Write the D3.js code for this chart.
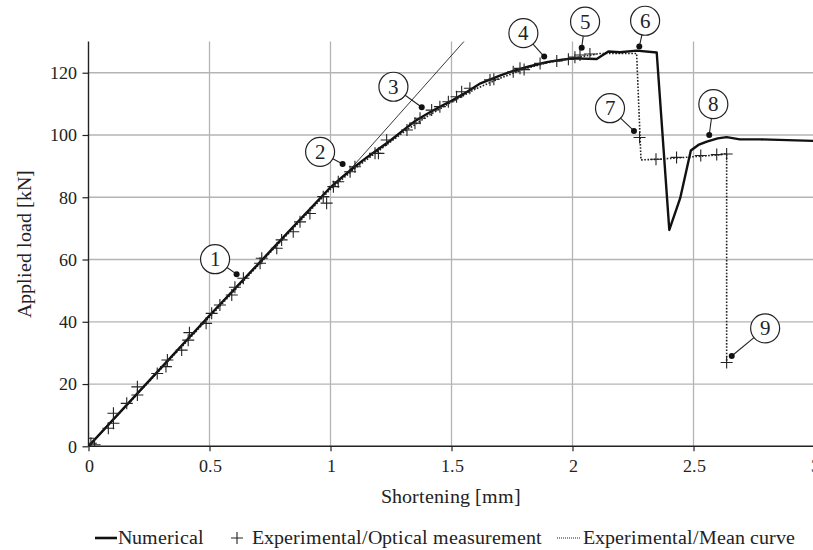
<!DOCTYPE html>
<html>
<head>
<meta charset="utf-8">
<script src="https://cdn.jsdelivr.net/npm/d3@7"></script>
<style>
  @font-face {
    font-family: "ChartSerif";
    src: local("Liberation Serif"), local("LiberationSerif"), local("LiberationSerif-Regular"),
         local("DejaVu Serif"), local("DejaVuSerif"), local("Times New Roman");
  }
  html, body { margin: 0; padding: 0; background: #fff; }
  svg { display: block; }
  svg text { font-family: "ChartSerif", "Liberation Serif", "DejaVu Serif", serif; }
</style>
</head>
<body>
<svg id="chart" width="813" height="550"></svg>
<script>
// Load–shortening response: numerical model vs. experiment
const xTicks = [0, 0.5, 1, 1.5, 2, 2.5, 3];
const yTicks = [0, 20, 40, 60, 80, 100, 120];

// Numerical simulation [shortening mm, load kN]
const numShort = [0, 0.25, 0.5, 0.75, 1.0, 1.05, 1.1, 1.15, 1.2, 1.25, 1.3, 1.35, 1.4, 1.45, 1.5, 1.55, 1.62, 1.7, 1.755, 1.82, 1.893, 1.95, 2.0, 2.1, 2.148, 2.196, 2.265, 2.348, 2.4, 2.445, 2.489, 2.52, 2.555, 2.6, 2.637, 2.692, 2.775, 3.0];
const numLoad  = [0, 21, 42, 62.6, 83.2, 86.6, 89.8, 92.8, 95.6, 98.4, 101.5, 104.5, 106.8, 109.0, 111, 113.2, 116.6, 119.1, 120.6, 122.0, 123.4, 124.1, 124.6, 124.4, 126.8, 126.6, 127.1, 126.5, 69.5, 79.7, 95.0, 96.8, 97.9, 98.9, 99.3, 98.6, 98.6, 98.1];

// Optical measurement points
const optShort = [0, 0.01, 0.025, 0.082, 0.103, 0.103, 0.158, 0.202, 0.202, 0.284, 0.32, 0.326, 0.385, 0.412, 0.417, 0.486, 0.509, 0.543, 0.592, 0.605, 0.64, 0.709, 0.716, 0.778, 0.798, 0.846, 0.874, 0.915, 0.97, 0.984, 1.012, 1.032, 1.081, 1.101, 1.184, 1.198, 1.232, 1.316, 1.349, 1.37, 1.418, 1.452, 1.487, 1.521, 1.542, 1.576, 1.659, 1.675, 1.755, 1.783, 1.8, 1.866, 1.935, 1.983, 2.01, 2.031, 2.072, 2.277, 2.345, 2.43, 2.53, 2.596, 2.637, 2.637];
const optLoad  = [2.6, 1.0, 0.5, 5.8, 7.4, 10.6, 13.8, 16.5, 19.1, 23.4, 25.6, 27.7, 30.9, 34.1, 36.5, 39.5, 42.7, 45.4, 48.6, 51.1, 54.0, 58.8, 60.4, 63.6, 66.3, 68.9, 72.1, 74.8, 80.2, 78.1, 83.4, 85.0, 88.2, 89.8, 94.1, 94.1, 98.4, 101.6, 103.8, 105.4, 108.0, 109.1, 110.7, 112.3, 113.9, 115.0, 117.7, 117.9, 120.3, 121.4, 121.0, 123.0, 123.8, 124.3, 125.0, 125.7, 126.0, 99.2, 92.2, 92.8, 93.4, 93.7, 93.9, 26.9];

// Experimental mean curve
const meanShort = [0, 0.25, 0.5, 0.75, 1.0, 1.1, 1.2, 1.3, 1.4, 1.5, 1.6, 1.7, 1.8, 1.9, 2.0, 2.113, 2.265, 2.283, 2.35, 2.43, 2.53, 2.6, 2.637, 2.637];
const meanLoad  = [0, 20.8, 41.5, 62.2, 82.6, 89.2, 95.0, 100.8, 106.0, 110.6, 114.8, 118.2, 121.2, 123.3, 124.6, 126.2, 126.2, 92.0, 92.2, 92.6, 93.2, 93.6, 94.0, 26.9];

// Initial-stiffness reference line
const tangentShort = [1.065, 1.56];
const tangentLoad  = [87.5, 130.8];

// Numbered events: marker point and label position (data units)
const eventIds    = ["1", "2", "3", "4", "5", "6", "7", "8", "9"];
const eventShort  = [0.612, 1.050, 1.377, 1.883, 2.038, 2.276, 2.254, 2.565, 2.658];
const eventLoad   = [55.3, 90.7, 108.9, 125.2, 128.0, 128.4, 101.3, 100.0, 29.0];
const labelShort  = [0.523, 0.957, 1.260, 1.797, 2.052, 2.300, 2.155, 2.582, 2.796];
const labelLoad   = [60.1, 94.6, 115.5, 132.7, 136.4, 136.7, 108.6, 109.9, 37.9];

const legendLabels = ["Numerical", "Experimental/Optical measurement", "Experimental/Mean curve"];

const zip = (a, b) => a.map((v, i) => [v, b[i]]);

const svg = d3.select("#chart");
const W = 813, H = 550;
const pLeft = 88.5, pRight = 814.5, pTop = 41.6, pBottom = 446.3;

const x = d3.scaleLinear().domain([0, 3]).range([pLeft, pRight]);
const y = d3.scaleLinear().domain([0, 130]).range([pBottom, pTop]);

svg.append("defs").append("clipPath").attr("id", "plot")
  .append("rect").attr("x", pLeft).attr("y", pTop).attr("width", pRight - pLeft).attr("height", pBottom - pTop);

// grid
const grid = svg.append("g").attr("stroke", "#b4b4b4").attr("stroke-width", 1.3);
grid.selectAll("line.v").data(xTicks.filter(d => d > 0)).join("line").attr("class", "v")
  .attr("x1", d => x(d)).attr("x2", d => x(d)).attr("y1", pTop).attr("y2", pBottom);
grid.selectAll("line.h").data(yTicks.filter(d => d > 0)).join("line").attr("class", "h")
  .attr("x1", pLeft).attr("x2", W).attr("y1", d => y(d)).attr("y2", d => y(d));

// axes
const yAxis = svg.append("g").attr("transform", `translate(${pLeft},0)`)
  .call(d3.axisLeft(y).tickValues(yTicks).tickSize(6).tickPadding(6).tickFormat(d3.format("d")));
const xAxis = svg.append("g").attr("transform", `translate(0,${pBottom})`)
  .call(d3.axisBottom(x).tickValues(xTicks).tickSize(5).tickPadding(8).tickFormat(d => String(d)));
[xAxis, yAxis].forEach(g => {
  g.attr("font-family", null).attr("font-size", null);
  g.select(".domain").remove();
  g.selectAll("line").attr("stroke", "#222").attr("stroke-width", 1.2);
  g.selectAll("text").attr("fill", "#222").style("font-size", "18px");
});
svg.append("line").attr("x1", pLeft).attr("x2", pLeft).attr("y1", pTop).attr("y2", pBottom)
  .attr("stroke", "#222").attr("stroke-width", 1.4);
svg.append("line").attr("x1", pLeft).attr("x2", W).attr("y1", pBottom).attr("y2", pBottom)
  .attr("stroke", "#222").attr("stroke-width", 1.4);

// axis titles
svg.append("text").attr("x", (pLeft + pRight) / 2 - 1).attr("y", 503)
  .attr("text-anchor", "middle").style("font-size", "20px").attr("fill", "#222")
  .text("Shortening [mm]");
svg.append("text").attr("transform", `translate(31,${(pTop + pBottom) / 2}) rotate(-90)`)
  .attr("text-anchor", "middle").style("font-size", "20px").attr("fill", "#222")
  .text("Applied load [kN]");

const plot = svg.append("g").attr("clip-path", "url(#plot)");
const line = d3.line().x(d => x(d[0])).y(d => y(d[1]));

// tangent reference
plot.append("path").datum(zip(tangentShort, tangentLoad)).attr("d", line)
  .attr("fill", "none").attr("stroke", "#222").attr("stroke-width", 0.9);

// mean curve (dotted)
plot.append("path").datum(zip(meanShort, meanLoad)).attr("d", line)
  .attr("fill", "none").attr("stroke", "#222").attr("stroke-width", 1.6).attr("stroke-dasharray", "1.6,1.6");

// numerical curve
plot.append("path").datum(zip(numShort, numLoad)).attr("d", line)
  .attr("fill", "none").attr("stroke", "#111").attr("stroke-width", 2.4).attr("stroke-linejoin", "round");

// optical measurement markers
plot.append("g").selectAll("path").data(zip(optShort, optLoad)).join("path")
  .attr("transform", d => `translate(${x(d[0])},${y(d[1])})`)
  .attr("d", "M-6,0H6M0,-6V6")
  .attr("fill", "none").attr("stroke", "#222").attr("stroke-width", 1.1);

// numbered event callouts
const R = 14.5;
const ev = svg.append("g");
eventIds.forEach((id, i) => {
  const px = x(eventShort[i]), py = y(eventLoad[i]);
  const cx = x(labelShort[i]), cy = y(labelLoad[i]);
  const dx = px - cx, dy = py - cy, len = Math.hypot(dx, dy);
  ev.append("line").attr("x1", cx + dx / len * R).attr("y1", cy + dy / len * R)
    .attr("x2", px).attr("y2", py).attr("stroke", "#222").attr("stroke-width", 1.1);
  ev.append("circle").attr("cx", px).attr("cy", py).attr("r", 3).attr("fill", "#111");
  ev.append("circle").attr("cx", cx).attr("cy", cy).attr("r", R)
    .attr("fill", "#fff").attr("stroke", "#222").attr("stroke-width", 1.2);
  ev.append("text").attr("x", cx).attr("y", cy + 7).attr("text-anchor", "middle")
    .style("font-size", "21px").attr("fill", "#222").text(id);
});

// legend
const lg = svg.append("g").style("font-size", "20px").attr("fill", "#222");
const ly = 544;
lg.append("line").attr("x1", 95).attr("x2", 117).attr("y1", ly - 6).attr("y2", ly - 6)
  .attr("stroke", "#111").attr("stroke-width", 2.6);
lg.append("text").attr("x", 118).attr("y", ly).text(legendLabels[0]);
lg.append("path").attr("d", `M${231},${ly - 6}h12M${237},${ly - 12}v12`)
  .attr("stroke", "#222").attr("stroke-width", 1.1);
lg.append("text").attr("x", 252).attr("y", ly).text(legendLabels[1]);
lg.append("line").attr("x1", 557).attr("x2", 580).attr("y1", ly - 6).attr("y2", ly - 6)
  .attr("stroke", "#222").attr("stroke-width", 1.2).attr("stroke-dasharray", "1,1");
lg.append("text").attr("x", 583).attr("y", ly).text(legendLabels[2]);
</script>
</body>
</html>
